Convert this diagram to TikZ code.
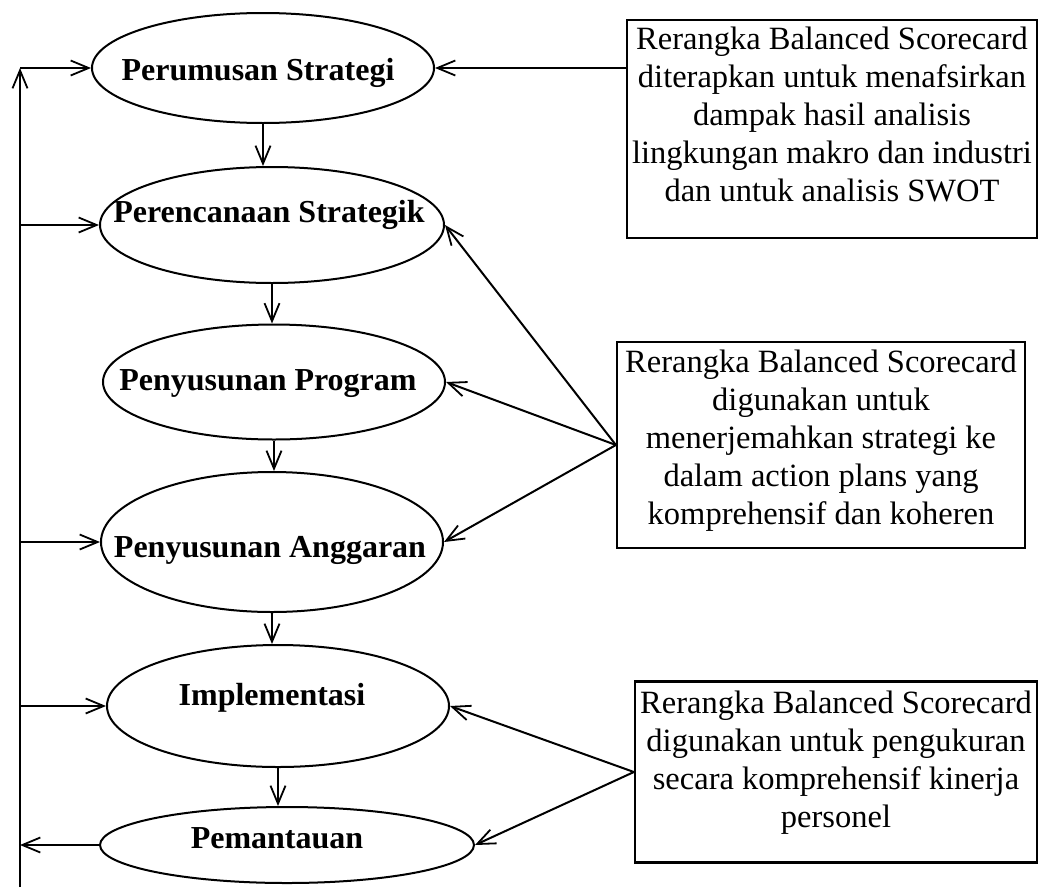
\documentclass[tikz,border=0pt]{standalone}
\usepackage{fontspec}
\setmainfont{Liberation Serif}
\usetikzlibrary{shapes.geometric,arrows.meta}
\begin{document}
\begin{tikzpicture}[x=1pt,y=-1pt,
  line width=2pt,
  arr/.style={-{Straight Barb[length=18pt,width=15pt,line width=1.8pt]}},
  stage/.style={draw,ellipse,inner sep=0pt,line width=2pt},
  stagetext/.style={anchor=base,font=\fontsize{32}{38}\selectfont\bfseries,inner sep=0pt},
  notebox/.style={draw,rectangle,inner sep=0pt,line width=2.2pt},
  notetext/.style={anchor=north,align=center,inner sep=0pt,font=\fontsize{32.5}{38}\selectfont}]
\useasboundingbox (0,0) rectangle (1038,889);

% stages
\node[stage,minimum width=342pt,minimum height=110pt] (e1) at (263,68) {};
\node[stage,minimum width=344pt,minimum height=116pt] (e2) at (272,225) {};
\node[stage,minimum width=342pt,minimum height=115pt] (e3) at (274,382) {};
\node[stage,minimum width=342pt,minimum height=140pt] (e4) at (272,542) {};
\node[stage,minimum width=342pt,minimum height=122pt] (e5) at (278,706) {};
\node[stage,minimum width=374pt,minimum height=76pt] (e6) at (287,845) {};

\node[stagetext] (t1) at (258,80) {Perumusan Strategi};
\node[stagetext] (t2) at (269,222) {Perencanaan Strategik};
\node[stagetext] (t3) at (268,390) {Penyusunan Program};
\node[stagetext] (t4) at (270,557) {Penyusunan Anggaran};
\node[stagetext] (t5) at (272,705) {Implementasi};
\node[stagetext] (t6) at (277,848) {Pemantauan};

% note boxes
\node[notebox,minimum width=410pt,minimum height=218pt] (b1) at (832,129) {};
\node[notebox,minimum width=408pt,minimum height=206pt] (b2) at (821,445) {};
\node[notebox,minimum width=402pt,minimum height=181pt] (b3) at (836,772) {};

\node[notetext] (n1) at (832,26) {Rerangka Balanced Scorecard\\diterapkan untuk menafsirkan\\dampak hasil analisis\\lingkungan makro dan industri\\dan untuk analisis SWOT};
\node[notetext] (n2) at (821,349) {Rerangka Balanced Scorecard\\digunakan untuk\\menerjemahkan strategi ke\\dalam action plans yang\\komprehensif dan koheren};
\node[notetext] (n3) at (836,690) {Rerangka Balanced Scorecard\\digunakan untuk pengukuran\\secara komprehensif kinerja\\personel};

% feedback line
\coordinate (fbTop) at (20,68);
\coordinate (fbBot) at (20,887);
\draw[arr] (fbBot) -- (fbTop);
\draw[arr] (fbTop) -- (e1.west);
\draw[arr] (fbTop |- e2.west) -- (e2.west);
\draw[arr] (fbTop |- e4.west) -- (e4.west);
\draw[arr] (fbTop |- e5.west) -- (e5.west);
\draw[arr] (e6.west) -- (fbTop |- e6.west);

% sequence
\draw[arr] (e1.south) -- (e1.south |- e2.north);
\draw[arr] (e2.south) -- (e2.south |- e3.north);
\draw[arr] (e3.south) -- (e3.south |- e4.north);
\draw[arr] (e4.south) -- (e4.south |- e5.north);
\draw[arr] (e5.south) -- (e5.south |- e6.north);

% notes to stages
\draw[arr] (b1.west |- e1.east) -- (e1.east);
\draw[arr] (b2.west) -- (e2.east);
\draw[arr] (b2.west) -- (e3.east);
\draw[arr] (b2.west) -- (e4.east);
\draw[arr] (b3.west) -- (e5.east);
\draw[arr] (b3.west) -- (e6.east);
\end{tikzpicture}
\end{document}
